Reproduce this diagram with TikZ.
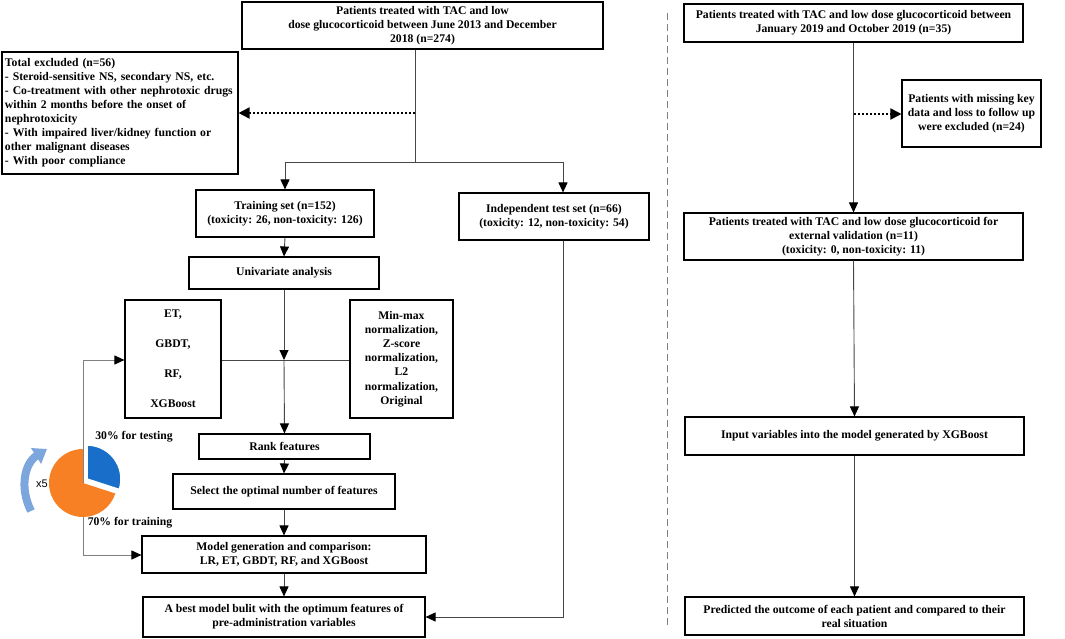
\documentclass[tikz,border=0pt]{standalone}
\usepackage{fontspec}
\setmainfont{Liberation Serif}
\newfontfamily\xfont{Liberation Sans}
\usetikzlibrary{arrows.meta}
\definecolor{lnc}{RGB}{70,70,70}
\definecolor{pieor}{RGB}{247,128,36}
\definecolor{pieblue}{RGB}{24,110,200}
\definecolor{arcblue}{RGB}{125,166,220}
\tikzset{
  box/.style={draw=black, line width=1.1pt, align=center, inner sep=2pt,
    font=\bfseries\fontsize{11.7}{14}\selectfont},
  conn/.style={draw=lnc, line width=0.9pt},
  arr/.style={conn, -{Triangle[length=10pt,width=9pt,color=black]}},
  dotarr/.style={draw=black, line width=1.8pt, dash pattern=on 1.8pt off 2.2pt, -{Triangle[length=11pt,width=11pt,color=black]}},
  lbl/.style={font=\bfseries\fontsize{11.7}{14}\selectfont, inner sep=0pt}
}
\begin{document}
\begin{tikzpicture}[x=1pt,y=-1pt]
\useasboundingbox (0,0) rectangle (1065,639);
% left panel boxes
\node[box, minimum width=361pt, minimum height=47pt] (top) at (422.5,25.5)
  {Patients treated with TAC and low\\dose glucocorticoid between June 2013 and December\\2018 (n=274)};
\node[box, align=left, text width=230pt, minimum height=122pt, inner xsep=3pt] (excl) at (120,113)
  {Total excluded (n=56)\\
   - Steroid-sensitive NS, secondary NS, etc.\\
   - Co-treatment with other nephrotoxic drugs\\
   within 2 months before the onset of\\
   nephrotoxicity\\
   - With impaired liver/kidney function or\\
   other malignant diseases\\
   - With poor compliance};
\node[box, minimum width=178pt, minimum height=47pt] (train) at (285,213.5)
  {Training set (n=152)\\(toxicity: 26, non-toxicity: 126)};
\node[box, minimum width=190pt, minimum height=47pt] (indep) at (554,216.5)
  {Independent test set (n=66)\\(toxicity: 12, non-toxicity: 54)};
\node[box, minimum width=190pt, minimum height=32pt] (univ) at (284,273)
  {Univariate analysis};
\node[box, minimum width=96pt, minimum height=118pt] (et) at (173,359)
  {ET,\\[16pt]GBDT,\\[16pt]RF,\\[16pt]XGBoost};
\node[box, minimum width=103pt, minimum height=118pt,
  font=\bfseries\fontsize{11.7}{14.2}\selectfont] (norm) at (401.5,359)
  {Min-max\\normalization,\\Z-score\\normalization,\\L2\\normalization,\\Original};
\node[box, minimum width=171pt, minimum height=25pt] (rank) at (284.5,446.5)
  {Rank features};
\node[box, minimum width=222pt, minimum height=35pt] (select) at (284,491.5)
  {Select the optimal number of features};
\node[box, minimum width=284pt, minimum height=37pt] (model) at (284,554.5)
  {Model generation and comparison:\\LR, ET, GBDT, RF, and XGBoost};
\node[box, minimum width=282pt, minimum height=40pt] (best) at (284,617)
  {A best model bulit with the optimum features of\\pre-administration variables};
% right panel boxes
\node[box, minimum width=339pt, minimum height=38pt] (rtop) at (853.5,23)
  {Patients treated with TAC and low dose glucocorticoid between\\January 2019 and October 2019 (n=35)};
\node[box, minimum width=139pt, minimum height=67pt] (miss) at (971.5,113.5)
  {Patients with missing key\\data and loss to follow up\\were excluded (n=24)};
\node[box, minimum width=339pt, minimum height=47pt] (ext) at (853.5,236.5)
  {Patients treated with TAC and low dose glucocorticoid for\\external validation (n=11)\\(toxicity: 0, non-toxicity: 11)};
\node[box, minimum width=339pt, minimum height=38pt] (input) at (854.5,436)
  {Input variables into the model generated by XGBoost};
\node[box, minimum width=339pt, minimum height=38pt] (pred) at (854.5,616)
  {Predicted the outcome of each patient and compared to their\\real situation};
% coordinates
\coordinate (j1) at (415,162);
\coordinate (d1) at (415,113);
\coordinate (s1) at (285,162);
\coordinate (s2) at (563,162);
\coordinate (m) at (284,360);
\coordinate (c1) at (563,617);
\coordinate (L1) at (83,360);
\coordinate (L2) at (83,555);
\coordinate (d2) at (854,114);
\coordinate (dv1) at (667,13);
\coordinate (dv2) at (667,625);
% left connectors
\draw[conn] (top.south -| j1) -- (j1);
\draw[dotarr] (d1) -- (excl.east |- d1);
\draw[conn] (s1) -- (s2);
\draw[arr] (s1) -- (s1 |- train.north);
\draw[arr] (s2) -- (s2 |- indep.north);
\draw[arr] (train.south) -- (univ.north);
\draw[arr] (univ.south) -- (m);
\draw[conn] (et.east |- m) -- (norm.west |- m);
\draw[arr] (m) -- (rank.north);
\draw[arr] (rank.south) -- (select.north);
\draw[arr] (select.south) -- (model.north);
\draw[arr] (model.south) -- (best.north);
\draw[arr] (s2 |- indep.south) -- (c1) -- (best.east);
\draw[arr, draw=gray] (L2) -- (L1) -- (et.west |- L1);
\draw[arr, draw=gray] (L2) -- (model.west |- L2);
% right connectors
\draw[draw=gray, line width=0.9pt, dash pattern=on 7pt off 4pt] (dv1) -- (dv2);
\draw[arr] (rtop.south) -- (ext.north);
\draw[dotarr] (d2) -- (miss.west |- d2);
\draw[arr] (ext.south) -- (input.north);
\draw[arr] (input.south) -- (pred.north);
% pie chart
\begin{scope}[shift={(83,483)}, y=1pt]
  \fill[pieor] (0,0) -- (90:34) arc[start angle=90, end angle=342, radius=34] -- cycle;
  \filldraw[fill=pieblue, draw=white, line width=1.5pt] (4,4) -- ++(90:34) arc[start angle=90, end angle=-18, radius=34] -- cycle;
  \draw[arcblue, line width=8pt, -{Triangle[length=13pt,width=18pt]}]
    (-52,-28) .. controls (-64,-4) and (-58,20) .. (-36,34);
  \coordinate (pc) at (0,0);
\end{scope}
\node[font=\xfont\fontsize{11}{13}\selectfont, inner sep=0pt] (x5) at (42,484) {x5};
\node[lbl] (t30) at (134,437) {30\% for testing};
\node[lbl] (t70) at (130,523) {70\% for training};
\end{tikzpicture}
\end{document}
